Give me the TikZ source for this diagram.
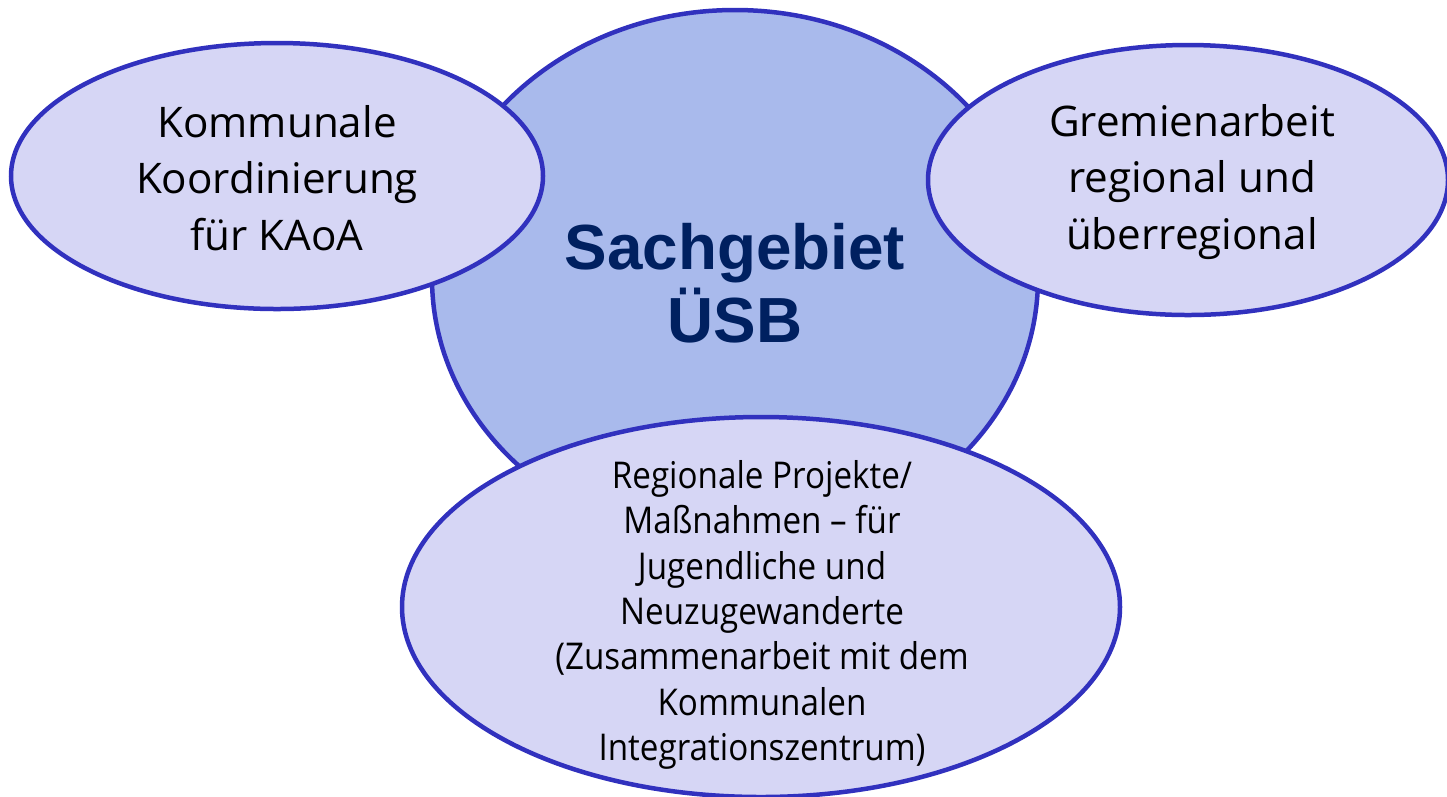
\documentclass[tikz,border=0pt]{standalone}
\usepackage{fontspec}
\usepackage{tikz}
\usetikzlibrary{shapes.geometric}
\setmainfont{Open Sans}
\newfontfamily\headfont{Liberation Sans}
\newfontfamily\narrowfont[FakeStretch=0.9]{Open Sans}
\definecolor{rim}{RGB}{49,49,190}
\definecolor{kernfill}{RGB}{169,186,236}
\definecolor{blobfill}{RGB}{214,214,245}
\definecolor{navy}{RGB}{0,32,96}
\tikzset{
	blob/.style={ellipse, draw=rim, fill=blobfill, line width=0.09cm, inner sep=0pt},
	kern/.style={blob, fill=kernfill},
	blobtext/.style={align=center, font=\fontsize{24}{32.3}\selectfont},
	kerntext/.style={align=center, text=navy, font=\headfont\bfseries\fontsize{36.3}{41.4}\selectfont},
	smalltext/.style={align=center, font=\narrowfont\fontsize{21}{25.8}\selectfont}
}

\begin{document}
\begin{tikzpicture}[x=0.02cm, y=-0.02cm]
		\useasboundingbox (0,0) rectangle (1447,796);
		\node[kern, minimum width=606*0.02cm, minimum height=536*0.02cm] (usb) at (735,278) {};
		\node[blob, minimum width=532*0.02cm, minimum height=266*0.02cm] (kaoa) at (277,176) {};
		\node[blob, minimum width=520*0.02cm, minimum height=270*0.02cm] (gremien) at (1188,180) {};
		\node[blob, minimum width=718*0.02cm, minimum height=380*0.02cm] (projekte) at (761,607) {};
		% Beschriftungen
		\node[kerntext] (usbtext) at (735,283) {Sachgebiet\\ÜSB};
		\node[blobtext] (kaoatext) at (277,178) {Kommunale\\Koordinierung\\für KAoA};
		\node[blobtext] (gremientext) at (1192,182) {Gremienarbeit\\regional und\\überregional};
		\node[smalltext] (projektetext) at (762,615) {Regionale Projekte/\\Maßnahmen – für\\Jugendliche und\\Neuzugewanderte\\(Zusammenarbeit mit dem\\Kommunalen\\Integrationszentrum)};
\end{tikzpicture}
\end{document}
